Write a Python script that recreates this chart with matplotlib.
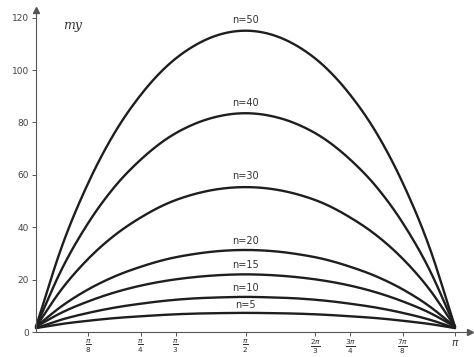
import numpy as np
import matplotlib
matplotlib.use("Agg")
import matplotlib.pyplot as plt

# x positions: k*pi/16, k = 0..16
x_frac = [k / 16 for k in range(17)]

n_values = [50, 40, 30, 20, 15, 10, 5]
curve_50 = [2, 33, 57, 76, 90.5, 101.5, 109, 113.5, 115, 113.5, 109, 101.5, 90.5, 76, 57, 33, 2]
curve_40 = [2, 24.3, 41.7, 55.4, 65.8, 73.8, 79.2, 82.4, 83.5, 82.4, 79.2, 73.8, 65.8, 55.4, 41.7, 24.3, 2]
curve_30 = [2, 16.6, 28, 36.9, 43.7, 49, 52.5, 54.6, 55.3, 54.6, 52.5, 49, 43.7, 36.9, 28, 16.6, 2]
curve_20 = [2, 10, 16.3, 21.2, 24.9, 27.8, 29.7, 30.9, 31.3, 30.9, 29.7, 27.8, 24.9, 21.2, 16.3, 10, 2]
curve_15 = [2, 7.5, 11.7, 15.1, 17.7, 19.6, 20.9, 21.7, 22, 21.7, 20.9, 19.6, 17.7, 15.1, 11.7, 7.5, 2]
curve_10 = [1.5, 4.8, 7.3, 9.3, 10.8, 12, 12.8, 13.2, 13.4, 13.2, 12.8, 12, 10.8, 9.3, 7.3, 4.8, 1.5]
curve_5 = [1.5, 3.1, 4.3, 5.3, 6.0, 6.6, 7.0, 7.2, 7.3, 7.2, 7.0, 6.6, 6.0, 5.3, 4.3, 3.1, 1.5]
curves = [curve_50, curve_40, curve_30, curve_20, curve_15, curve_10, curve_5]
curve_labels = ["n=50", "n=40", "n=30", "n=20", "n=15", "n=10", "n=5"]
label_y = [119, 87.4, 59.5, 34.7, 25.6, 16.8, 10.3]

x_tick_frac = [1/8, 1/4, 1/3, 1/2, 2/3, 3/4, 7/8, 1]
x_tick_labels = [r"$\frac{\pi}{8}$", r"$\frac{\pi}{4}$", r"$\frac{\pi}{3}$", r"$\frac{\pi}{2}$",
                 r"$\frac{2\pi}{3}$", r"$\frac{3\pi}{4}$", r"$\frac{7\pi}{8}$", r"$\pi$"]
y_ticks = [0, 20, 40, 60, 80, 100, 120]


def smooth(xs, ys, per=12):
    """Catmull-Rom rendering of a polyline through the given points."""
    xs = np.asarray(xs, float); ys = np.asarray(ys, float)
    P = np.column_stack([xs, ys])
    P = np.vstack([2 * P[0] - P[1], P, 2 * P[-1] - P[-2]])
    out = []
    t = np.linspace(0, 1, per, endpoint=False)[:, None]
    for i in range(1, len(P) - 2):
        p0, p1, p2, p3 = P[i - 1], P[i], P[i + 1], P[i + 2]
        seg = 0.5 * ((2 * p1) + (-p0 + p2) * t + (2 * p0 - 5 * p1 + 4 * p2 - p3) * t ** 2
                     + (-p0 + 3 * p1 - 3 * p2 + p3) * t ** 3)
        out.append(seg)
    out.append(P[-2][None, :])
    out = np.vstack(out)
    return out[:, 0], out[:, 1]


fig = plt.figure(figsize=(4.74, 3.57), dpi=100)
ax = fig.add_axes([36 / 474, (357 - 332) / 357, (470 - 36) / 474, (332 - 10) / 357])

xs = np.array(x_frac) * np.pi
line_color = "#1e1e1e"
for ys, lab, ly in zip(curves, curve_labels, label_y):
    sx, sy = smooth(xs, ys)
    ax.plot(sx, sy, color=line_color, lw=1.7, solid_capstyle="round", clip_on=False)
    ax.text(np.pi / 2, ly, lab, ha="center", va="center", fontsize=7, color="#333333")

ax.set_xlim(0, np.pi * (470 - 36) / 419)
ax.set_ylim(0, (332 - 10) / 2.62)

for s in ["top", "right"]:
    ax.spines[s].set_visible(False)
for s in ["left", "bottom"]:
    ax.spines[s].set_color("#555555")
    ax.spines[s].set_linewidth(0.8)

ax.set_xticks(np.array(x_tick_frac) * np.pi)
ax.set_xticklabels(x_tick_labels, fontsize=7.5, color="#333333")
ax.set_yticks(y_ticks)
ax.set_yticklabels([str(v) for v in y_ticks], fontsize=6.5, color="#444444")
ax.tick_params(axis="both", length=3, width=0.7, color="#555555", pad=2)
ax.tick_params(axis="x", pad=1)

# axis arrows
ax.plot(1, 0, ">", color="#555555", markersize=4, transform=ax.get_yaxis_transform(), clip_on=False)
ax.plot(0, 1, "^", color="#555555", markersize=4, transform=ax.get_xaxis_transform(), clip_on=False)

ax.text(0.2, 117, "my", fontsize=9, style="italic", family="DejaVu Serif", color="#333333",
        ha="left", va="center")

fig.savefig("out.png", dpi=100)
